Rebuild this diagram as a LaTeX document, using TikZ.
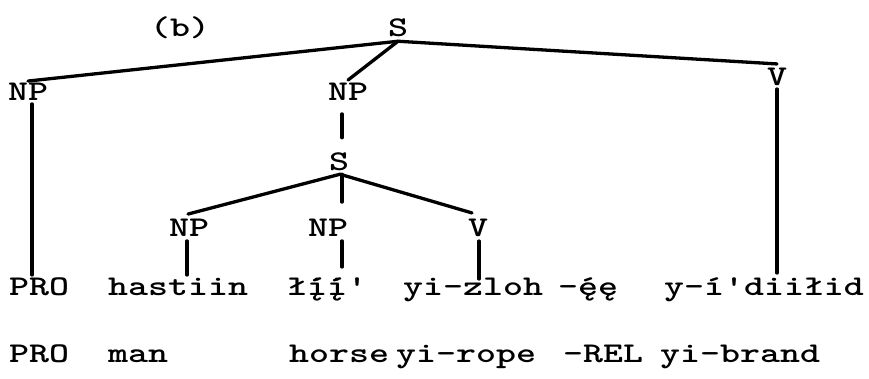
\documentclass[tikz,border=0pt]{standalone}
\usepackage{fontspec}
\newfontfamily\twfam{lmmonolt10-bold}[Extension=.otf,FakeStretch=1.33]
\newcommand{\twfont}{\fontsize{28.6}{32}\selectfont\twfam}
\begin{document}
\begin{tikzpicture}[x=1pt,y=-1pt,
  every node/.style={inner sep=0pt,font=\twfont},
  lbl/.style={anchor=center},
  word/.style={anchor=base west},
  branch/.style={line width=3.3pt,line cap=round}]
\useasboundingbox (0,0) rectangle (869,379);
% tree labels
\node[lbl] (b)   at (180,28)  {(b)};
\node[lbl] (S0)  at (398,28)  {S};
\node[lbl] (NP1) at (28,92)   {NP};
\node[lbl] (NP2) at (348,92)  {NP};
\node[lbl] (V1)  at (777,77)  {V};
\node[lbl] (S2)  at (339,162) {S};
\node[lbl] (NP3) at (189,228) {NP};
\node[lbl] (NP4) at (328,228) {NP};
\node[lbl] (V2)  at (478,228) {V};
% words
\node[word] (w1) at (9,295)   {PRO};
\node[word] (w2) at (108,295) {hastiin};
\node[word] (w3) at (287,295) {łį́į́'};
\node[word] (w4) at (403,295) {yi-zloh};
\node[word] (w5) at (558,295) {-ę́ę};
\node[word] (w6) at (664,295) {y-í'diiłid};
% glosses
\node[word] (g1) at (9,362)   {PRO};
\node[word] (g2) at (108,362) {man};
\node[word] (g3) at (289,362) {horse};
\node[word] (g4) at (396,362) {yi-rope};
\node[word] (g5) at (563,362) {-REL};
\node[word] (g6) at (660,362) {yi-brand};
\coordinate (wt) at (0,275);
% branches
\draw[branch] ([yshift=-4pt]S0.south) -- ([yshift=2pt]NP1.north);
\draw[branch] ([yshift=-4pt]S0.south) -- ([yshift=3pt]NP2.north);
\draw[branch] ([yshift=-4pt]S0.south) -- ([yshift=4pt]V1.north);
\draw[branch] ([xshift=4pt,yshift=-3pt]NP1.south) -- ([xshift=4pt]NP1.south |- wt);
\draw[branch] ([xshift=-6pt,yshift=-13pt]NP2.south) -- ([xshift=3pt,yshift=15pt]S2.north);
\draw[branch] ([yshift=-3pt]V1.south) -- ([yshift=2pt]V1.south |- wt);
\draw[branch] ([xshift=1pt,yshift=-3pt]S2.south) -- ([xshift=-1pt,yshift=5pt]NP3.north);
\draw[branch] ([xshift=3pt,yshift=-3pt]S2.south) -- ([xshift=14pt,yshift=17pt]NP4.north);
\draw[branch] ([xshift=1pt,yshift=-3pt]S2.south) -- ([xshift=-6pt,yshift=6pt]V2.north);
\draw[branch] ([xshift=-2pt,yshift=-4pt]NP3.south) -- ([xshift=-2pt]NP3.south |- wt);
\draw[branch] ([xshift=14pt,yshift=-4pt]NP4.south) -- ([xshift=14pt,yshift=8pt]NP4.south |- wt);
\draw[branch] ([xshift=1pt,yshift=-4pt]V2.south) -- ([xshift=1pt,yshift=-4pt]V2.south |- wt);
\end{tikzpicture}
\end{document}
